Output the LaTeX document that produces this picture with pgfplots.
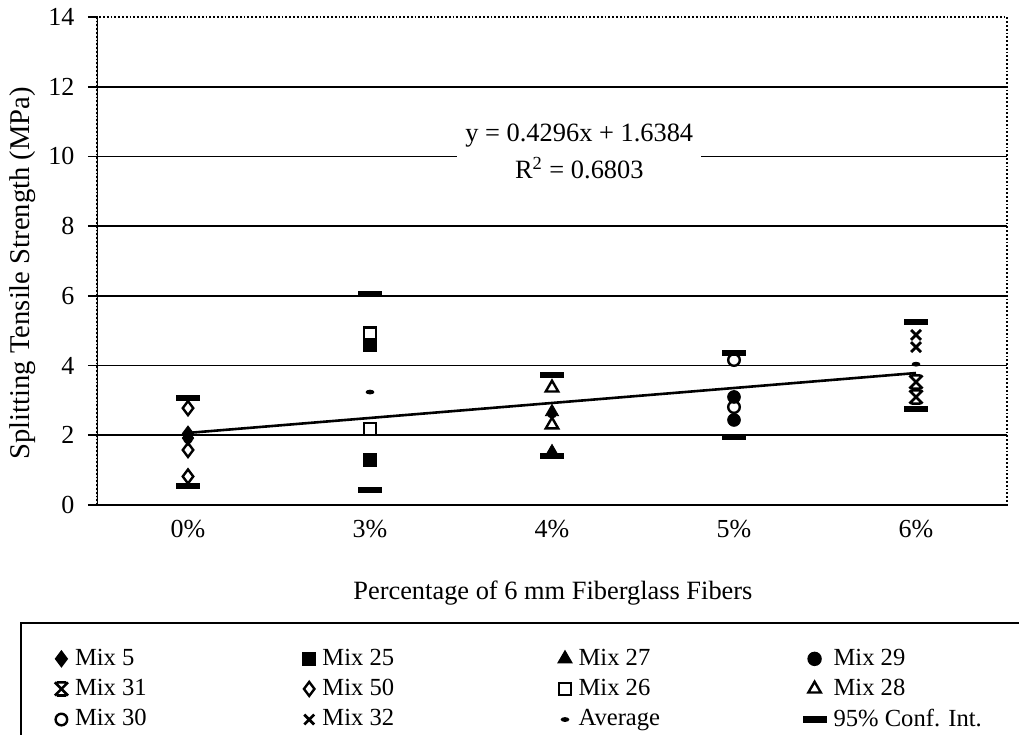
\documentclass[border=0pt]{standalone}
\usepackage{fontspec}
\setmainfont{Liberation Serif}
\usepackage{pgfplots}
\pgfplotsset{compat=1.18}
\pgfdeclareplotmark{confbar}{%
  \pgfpathrectangle{\pgfqpoint{-6pt}{-1.6pt}}{\pgfqpoint{12pt}{3.2pt}}%
  \pgfusepathqfill}
\pgfdeclareplotmark{avgdash}{%
  \pgfpathellipse{\pgfpointorigin}{\pgfqpoint{2.2pt}{0pt}}{\pgfqpoint{0pt}{1.2pt}}%
  \pgfusepathqfill}
\pgfdeclareplotmark{xstar}{%
  \pgfpathmoveto{\pgfqpoint{-\pgfplotmarksize}{-\pgfplotmarksize}}%
  \pgfpathlineto{\pgfqpoint{\pgfplotmarksize}{\pgfplotmarksize}}%
  \pgfpathmoveto{\pgfqpoint{-\pgfplotmarksize}{\pgfplotmarksize}}%
  \pgfpathlineto{\pgfqpoint{\pgfplotmarksize}{-\pgfplotmarksize}}%
  \pgfpathmoveto{\pgfqpoint{-0.7\pgfplotmarksize}{\pgfplotmarksize}}%
  \pgfpathlineto{\pgfqpoint{0.7\pgfplotmarksize}{\pgfplotmarksize}}%
  \pgfpathmoveto{\pgfqpoint{-0.7\pgfplotmarksize}{-\pgfplotmarksize}}%
  \pgfpathlineto{\pgfqpoint{0.7\pgfplotmarksize}{-\pgfplotmarksize}}%
  \pgfusepathqstroke}
\begin{document}
\fontsize{12.5}{15}\selectfont
\begin{tikzpicture}
\begin{axis}[
  at={(0,0)}, anchor=south west,
  width=455pt, height=244pt, scale only axis,
  xmin=0.5, xmax=5.5, ymin=0, ymax=14,
  xtick={1,2,3,4,5},
  xticklabels={0\%,3\%,4\%,5\%,6\%},
  x tick style={draw=none},
  x tick label style={yshift=1.5pt},
  y tick label style={xshift=-2.5pt},
  ytick={0,2,...,14},
  ytick pos=left,
  tick align=outside,
  major tick length=4.5pt,
  y tick style={black, line width=0.8pt},
  extra y ticks={2,4,6,8,10,12},
  extra y tick labels={},
  extra y tick style={grid=major, major tick length=0pt},
  major grid style={black, line width=0.8pt},
  axis line style={densely dotted, line width=0.9pt},
  /pgf/number format/assume math mode=true,
  tick label style={font=\fontsize{13}{15}\selectfont},
  ylabel={Splitting Tensile Strength (MPa)},
  ylabel style={at={(axis description cs:-0.082,0.475)}, anchor=center, font=\fontsize{14.3}{16}\selectfont},
  xlabel={Percentage of 6 mm Fiberglass Fibers},
  xlabel style={at={(axis description cs:0.501,-0.18)}, anchor=center, font=\fontsize{13.2}{15}\selectfont},
  legend columns=4,
  legend style={at={(axis description cs:-0.0846,-0.2398)}, anchor=north west,
    draw=black, line width=0.8pt, font=\fontsize{12.3}{14}\selectfont,
    inner xsep=17pt, inner ysep=11pt, row sep=1pt,
    /tikz/every odd column/.append style={column sep=1.5pt}},
  legend cell align=left,
  legend image code/.code={\draw[#1] plot coordinates {(0pt,0pt)};},
  mark size=3.2pt,
]
\draw[line width=1.1pt] (rel axis cs:0,1) -- (rel axis cs:0,0) -- (rel axis cs:1,0);
% trendline
\addplot[black, line width=1.3pt, no marks, forget plot] coordinates {(1,2.0680) (5,3.7864)};
% Mix 5
\addplot[only marks, mark=diamond*, mark size=3.8pt, black, fill=black] coordinates {(1,2.05) (1,1.92)};
\addlegendentry{\makebox[112pt][l]{Mix 5}}
% Mix 25
\addplot[only marks, mark=square*, mark size=3.1pt, black, fill=black] coordinates {(2,4.59) (2,1.29)};
\addlegendentry{\makebox[116pt][l]{Mix 25}}
% Mix 27
\addplot[only marks, mark=triangle*, mark size=3.8pt, black, fill=black] coordinates {(3,2.67) (3,1.52)};
\addlegendentry{\makebox[110pt][l]{Mix 27}}
% Mix 29
\addplot[only marks, mark=*, mark size=3.2pt, black, fill=black] coordinates {(4,3.10) (4,2.44)};
\addlegendentry{\makebox[125pt][l]{Mix 29}}
% Mix 31
\addplot[only marks, mark=xstar, mark size=3.3pt, black, line width=1.3pt] coordinates {(5,3.53) (5,3.10)};
\addlegendentry{\makebox[112pt][l]{Mix 31}}
% Mix 50
\addplot[only marks, mark=diamond, mark size=3.5pt, black, line width=1.2pt] coordinates {(1,2.78) (1,1.58) (1,0.82)};
\addlegendentry{\makebox[116pt][l]{Mix 50}}
% Mix 26
\addplot[only marks, mark=square, mark size=2.9pt, black, line width=1.2pt] coordinates {(2,4.93) (2,2.18)};
\addlegendentry{\makebox[110pt][l]{Mix 26}}
% Mix 28
\addplot[only marks, mark=triangle, mark size=3.6pt, black, line width=1.2pt] coordinates {(3,3.36) (3,2.30)};
\addlegendentry{\makebox[125pt][l]{Mix 28}}
% Mix 30
\addplot[only marks, mark=o, mark size=2.9pt, black, line width=1.2pt] coordinates {(4,4.16) (4,2.81)};
\addlegendentry{\makebox[112pt][l]{Mix 30}}
% Mix 32
\addplot[only marks, mark=x, mark size=3.5pt, black, line width=1.4pt] coordinates {(5,4.88) (5,4.53)};
\addlegendentry{\makebox[116pt][l]{Mix 32}}
% Average
\addplot[only marks, mark=avgdash, black] coordinates {(1,1.84) (2,3.24) (3,2.56) (4,3.15) (5,4.04)};
\addlegendentry{\makebox[110pt][l]{Average}}
% 95% Conf. Int.
\addplot[only marks, mark=confbar, black] coordinates {(1,3.07) (1,0.55) (2,6.05) (2,0.43) (3,3.73) (3,1.40) (4,4.36) (4,1.95) (5,5.25) (5,2.75)};
\addlegendentry{\makebox[125pt][l]{95\% Conf. Int.}}
\node[fill=white, align=center, inner xsep=4pt, inner ysep=2pt,
  font=\fontsize{13.2}{18.5}\selectfont] at (axis cs:3.15,10.14)
  {y = 0.4296x + 1.6384\\R\textsuperscript{2} = 0.6803};
\end{axis}
\pgfresetboundingbox
\useasboundingbox ([xshift=-48.5pt,yshift=-114.5pt]current axis.south west) rectangle ([xshift=6pt,yshift=8.5pt]current axis.north east);
\end{tikzpicture}
\end{document}
